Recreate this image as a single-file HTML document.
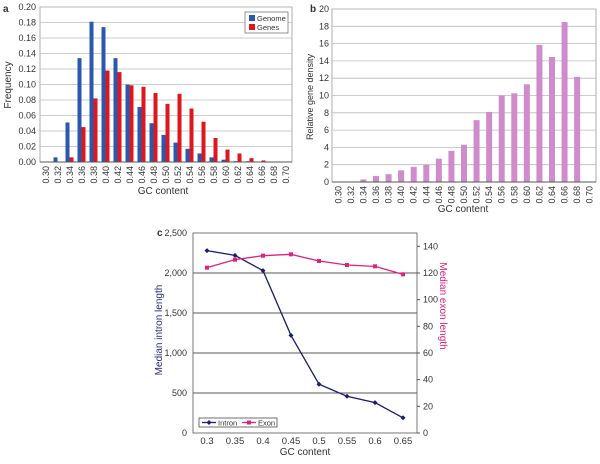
<!DOCTYPE html>
<html><head><meta charset="utf-8"><style>
body{margin:0;background:#fff;width:600px;height:459px;overflow:hidden}
svg text{font-family:"Liberation Sans",sans-serif;fill:#333}
</style></head><body>
<svg id="s" width="600" height="459" xmlns="http://www.w3.org/2000/svg"></svg>
<script>
const catsA=["0.30","0.32","0.34","0.36","0.38","0.40","0.42","0.44","0.46","0.48","0.50","0.52","0.54","0.56","0.58","0.60","0.62","0.64","0.66","0.68","0.70"];
const genomeVals=[0,0.006,0.051,0.134,0.181,0.174,0.134,0.100,0.071,0.050,0.035,0.025,0.017,0.011,0.006,0.003,0.001,0.001,0,0,0];
const geneVals=[0,0,0.006,0.045,0.082,0.118,0.116,0.099,0.097,0.089,0.075,0.088,0.069,0.052,0.031,0.016,0.011,0.005,0.002,0,0];
const ticksA=["0.00","0.02","0.04","0.06","0.08","0.10","0.12","0.14","0.16","0.18","0.20"];
const densityVals=[0,0.05,0.3,0.7,0.9,1.35,1.75,2.0,2.7,3.6,4.3,7.15,8.1,10.0,10.25,11.3,15.85,14.45,18.5,12.15,0];
const ticksB=["0","2","4","6","8","10","12","14","16","18","20"];
const catsC=["0.3","0.35","0.4","0.45","0.5","0.55","0.6","0.65"];
const intronVals=[2280,2220,2030,1220,610,460,380,190];
const exonVals=[124,130,133,134,129,126,125,119];
const ticksCL=["0","500","1,000","1,500","2,000","2,500"];
const ticksCR=["0","20","40","60","80","100","120","140"];

const svg=document.getElementById('s');const NS="http://www.w3.org/2000/svg";
function el(t,a,txt){const e=document.createElementNS(NS,t);for(const k in a)e.setAttribute(k,a[k]);if(txt!==undefined)e.textContent=txt;svg.appendChild(e);return e;}

// ---- Panel a
{const x0=40,x1=292,y0=162,y1=7,n=catsA.length,w=(x1-x0)/n;
const Y=v=>y0-(v/0.20)*(y0-y1);
el('rect',{x:x0,y:y1,width:x1-x0,height:y0-y1,fill:'#fff',stroke:'#999','stroke-width':0.8});
ticksA.forEach((t,i)=>{const v=i*0.02,y=Y(v);
 const g=el('line',{x1:x0,x2:x1,y1:y,y2:y,stroke:'#bbb','stroke-width':0.8});
 const tx=el('text',{x:x0-4,y:y+3,'font-size':9,'text-anchor':'end'},t);});
catsA.forEach((c,i)=>{const cx=x0+w*(i+0.5);
 const b1=el('rect',{x:cx-4.5,y:Y(genomeVals[i]),width:4,height:y0-Y(genomeVals[i]),fill:'#2a58b0'});
 const b2=el('rect',{x:cx-0.5,y:Y(geneVals[i]),width:4,height:y0-Y(geneVals[i]),fill:'#e0161e'});
 const t=el('text',{x:0,y:0,'font-size':9,'text-anchor':'end',transform:`translate(${cx+3},${y0+4}) rotate(-90)`},c);});
el('line',{x1:x0,x2:x1,y1:y0,y2:y0,stroke:'#555'});
const yt=el('text',{transform:'translate(11,85) rotate(-90)','font-size':10,'text-anchor':'middle'},'Frequency');
const xt=el('text',{x:163,y:194,'font-size':10,'text-anchor':'middle'},'GC content');
const pl=el('text',{x:3,y:12,'font-size':10,'font-weight':'bold',fill:'#000'},'a');
const lg=el('rect',{x:245,y:12,width:43,height:21,fill:'#fff',stroke:'#666','stroke-width':0.7});
el('rect',{x:249,y:15,width:6,height:6,fill:'#2a58b0'});el('rect',{x:249,y:24,width:6,height:6,fill:'#e0161e'});
const l1=el('text',{x:257,y:21,'font-size':7.5},'Genome');
const l2=el('text',{x:257,y:30,'font-size':7.5},'Genes');}

// ---- Panel b
{const x0=332,x1=596,y0=182,y1=9,n=catsA.length,w=(x1-x0)/n;
const Y=v=>y0-(v/20)*(y0-y1);
el('rect',{x:x0,y:y1,width:x1-x0,height:y0-y1,fill:'#fff',stroke:'#999','stroke-width':0.8});
ticksB.forEach((t,i)=>{const y=Y(i*2);
 const g=el('line',{x1:x0,x2:x1,y1:y,y2:y,stroke:'#bbb','stroke-width':0.8});
 const tx=el('text',{x:x0-3,y:y+3,'font-size':9,'text-anchor':'end'},t);});
catsA.forEach((c,i)=>{const cx=x0+w*(i+0.5);
 const b=el('rect',{x:cx-3,y:Y(densityVals[i]),width:6,height:y0-Y(densityVals[i]),fill:'#d08bcc'});
 const t=el('text',{x:0,y:0,'font-size':9,'text-anchor':'end',transform:`translate(${cx+3},${y0+4}) rotate(-90)`},c);});
el('line',{x1:x0,x2:x1,y1:y0,y2:y0,stroke:'#555'});
const yt=el('text',{transform:'translate(313,97) rotate(-90)','font-size':9,'text-anchor':'middle'},'Relative gene density');
const xt=el('text',{x:463,y:212,'font-size':10,'text-anchor':'middle'},'GC content');
const pl=el('text',{x:310,y:12,'font-size':10,'font-weight':'bold',fill:'#000'},'b');}

// ---- Panel c
{const x0=193,x1=417,y0=433,y1=233,n=catsC.length,w=(x1-x0)/n;
const YL=v=>y0-(v/2500)*(y0-y1),YR=v=>y0-(v/150)*(y0-y1),X=i=>x0+w*(i+0.5);
[500,1000,1500,2000].forEach(v=>{const g=el('line',{x1:x0,x2:x1,y1:YL(v),y2:YL(v),stroke:'#222','stroke-width':0.8});});
el('rect',{x:x0,y:y1,width:x1-x0,height:y0-y1,fill:'none',stroke:'#555','stroke-width':0.8});
ticksCL.forEach((t,i)=>{const y=YL(i*500);const tx=el('text',{x:x0-6,y:y+3,'font-size':9,'text-anchor':'end'},t);});
ticksCR.forEach((t,i)=>{const y=YR(i*20);el('line',{x1:x1,x2:x1+3,y1:y,y2:y,stroke:'#555'});const tx=el('text',{x:x1+6,y:y+3,'font-size':9},t);});
catsC.forEach((c,i)=>{const tx=el('text',{x:X(i),y:444,'font-size':9.5,'text-anchor':'middle'},c);});
const pi=el('polyline',{points:intronVals.map((v,i)=>X(i)+','+YL(v)).join(' '),fill:'none',stroke:'#1c1c70','stroke-width':1.3});
intronVals.forEach((v,i)=>{const m=el('path',{d:`M${X(i)-2.5},${YL(v)} L${X(i)},${YL(v)-2.5} L${X(i)+2.5},${YL(v)} L${X(i)},${YL(v)+2.5}Z`,fill:'#1c1c70'});});
const pe=el('polyline',{points:exonVals.map((v,i)=>X(i)+','+YR(v)).join(' '),fill:'none',stroke:'#e0207a','stroke-width':1.3});
exonVals.forEach((v,i)=>{const m=el('rect',{x:X(i)-2,y:YR(v)-2,width:4,height:4,fill:'#e0207a'});});
const lg=el('rect',{x:199,y:418,width:78,height:9,fill:'#fff',stroke:'#333','stroke-width':0.7});
el('line',{x1:202,x2:216,y1:422.5,y2:422.5,stroke:'#1c1c70','stroke-width':1.3});el('path',{d:'M206.5,422.5 L209,420 L211.5,422.5 L209,425Z',fill:'#1c1c70'});
const l1=el('text',{x:218,y:425.5,'font-size':7.5},'Intron');
el('line',{x1:242,x2:256,y1:422.5,y2:422.5,stroke:'#e0207a','stroke-width':1.3});el('rect',{x:247,y:420.5,width:4,height:4,fill:'#e0207a'});
const l2=el('text',{x:258,y:425.5,'font-size':7.5},'Exon');
const yt=el('text',{transform:'translate(162,330) rotate(-90)','font-size':10,'text-anchor':'middle',style:'fill:#2a2a80'},'Median intron length');
const yr=el('text',{transform:'translate(440,306) rotate(90)','font-size':10,'text-anchor':'middle',style:'fill:#e0207a'},'Median exon length');
const xt=el('text',{x:305,y:455,'font-size':10,'text-anchor':'middle'},'GC content');
const pl=el('text',{x:157,y:236,'font-size':10,'font-weight':'bold',fill:'#000'},'c');}
</script>
</body></html>
